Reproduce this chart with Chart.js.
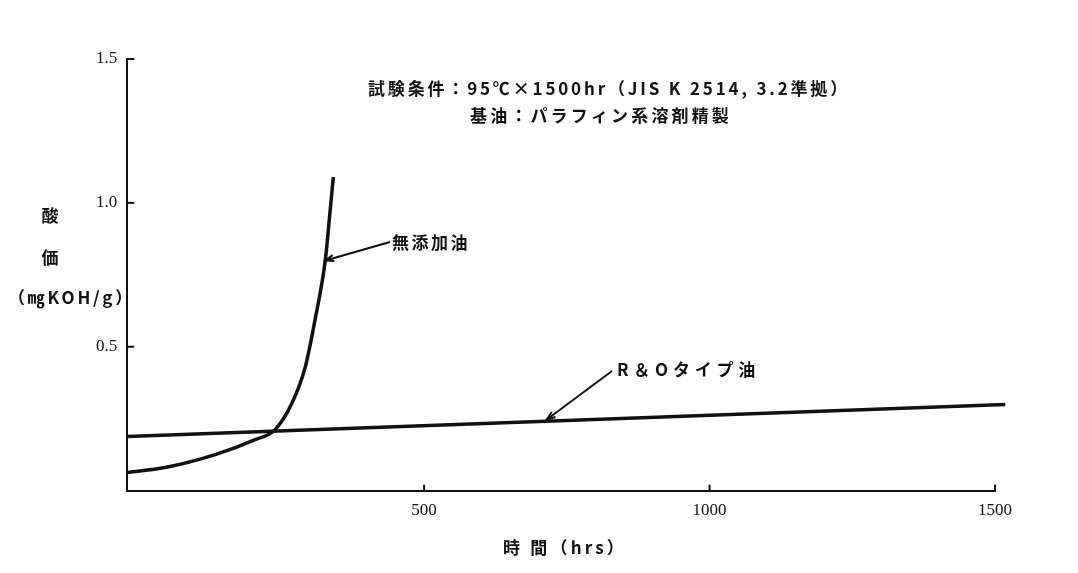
<!DOCTYPE html>
<html>
<head>
<meta charset="utf-8">
<script src="https://cdn.jsdelivr.net/npm/chart.js@4"></script>
<style>
  html, body { margin: 0; padding: 0; background: #fff; }
  #wrap { width: 1078px; height: 573px; }
</style>
</head>
<body>
<div id="wrap"><canvas id="acidChart"></canvas></div>
<script>
// 無添加油
const noAddHours = [-20, 46, 134, 204, 239, 269, 292, 309, 327, 335, 341];
const noAddAcid  = [0.063, 0.080, 0.125, 0.177, 0.212, 0.306, 0.431, 0.594, 0.802, 0.965, 1.09];
// R&Oタイプ油
const roHours = [-20, 1518];
const roAcid  = [0.188, 0.299];
// axis ticks
const xTicks = [500, 1000, 1500];
const yTicks = [0.5, 1.0, 1.5];

const jp = '"Noto Sans CJK JP", "Noto Sans", sans-serif';
const num = '"Liberation Serif", "DejaVu Serif", serif';

function arrow(ctx, x1, y1, x2, y2) {
    ctx.beginPath();
    ctx.moveTo(x1, y1);
    ctx.lineTo(x2, y2);
    ctx.stroke();
    const a = Math.atan2(y2 - y1, x2 - x1);
    ctx.beginPath();
    ctx.moveTo(x2 - 9 * Math.cos(a - 0.35), y2 - 9 * Math.sin(a - 0.35));
    ctx.lineTo(x2, y2);
    ctx.lineTo(x2 - 9 * Math.cos(a + 0.35), y2 - 9 * Math.sin(a + 0.35));
    ctx.stroke();
}

// text stretched to the width it has in the scan
function spread(ctx, text, x, y, width) {
    ctx.letterSpacing = '0px';
    const w = ctx.measureText(text).width;
    const n = [...text].length;
    ctx.letterSpacing = Math.max(0, (width - w) / n) + 'px';
    ctx.fillText(text, x, y);
    ctx.letterSpacing = '0px';
}

// inward ticks, texts and arrows
const extras = {
    id: 'extras',
    afterDraw(chart) {
        const ctx = chart.ctx;
        const xs = chart.scales.x, ys = chart.scales.y;
        const left = chart.chartArea.left, bottom = chart.chartArea.bottom;
        ctx.save();
        ctx.strokeStyle = '#111';
        ctx.lineWidth = 2;
        yTicks.forEach(v => {
            const py = ys.getPixelForValue(v);
            ctx.beginPath();
            ctx.moveTo(left, py);
            ctx.lineTo(left + 7, py);
            ctx.stroke();
        });
        xTicks.forEach(v => {
            const px = xs.getPixelForValue(v);
            ctx.beginPath();
            ctx.moveTo(px, bottom);
            ctx.lineTo(px, bottom - 6);
            ctx.stroke();
        });

        ctx.fillStyle = '#111';
        ctx.textBaseline = 'middle';
        ctx.textAlign = 'left';
        ctx.font = '600 17px ' + jp;
        spread(ctx, '試験条件：95℃×1500hr（JIS K 2514, 3.2準拠）', 368, 89, 482);
        spread(ctx, '基油：パラフィン系溶剤精製', 470, 116, 262);
        spread(ctx, '無添加油', 392, 243, 78);
        spread(ctx, 'R＆Oタイプ油', 617, 370, 143);
        spread(ctx, '時 間（hrs）', 503, 548, 124);

        ctx.textAlign = 'center';
        ctx.fillText('酸', 50, 216);
        ctx.fillText('価', 50, 258);
        ctx.textAlign = 'left';
        spread(ctx, '（㎎KOH/g）', 8, 298, 127);

        ctx.lineWidth = 2;
        arrow(ctx, 390, 242, xs.getPixelForValue(327), ys.getPixelForValue(0.80));
        arrow(ctx, 612, 371, xs.getPixelForValue(715), ys.getPixelForValue(0.247));
        ctx.restore();
    }
};

const ctx = document.getElementById('acidChart').getContext('2d');
const myChart = new Chart(ctx, {
    type: 'line',
    data: {
        datasets: [
            {
                label: '無添加油',
                data: noAddHours.map((h, i) => ({ x: h, y: noAddAcid[i] })),
                borderColor: '#111',
                borderWidth: 3.5,
                pointRadius: 0,
                cubicInterpolationMode: 'monotone',
                clip: false
            },
            {
                label: 'R&Oタイプ油',
                data: roHours.map((h, i) => ({ x: h, y: roAcid[i] })),
                borderColor: '#111',
                borderWidth: 3.5,
                pointRadius: 0,
                clip: false
            }
        ]
    },
    options: {
        responsive: true,
        maintainAspectRatio: false,
        animation: false,
        layout: { padding: { left: 94, right: 83, top: 59, bottom: 50 } },
        scales: {
            x: {
                type: 'linear',
                min: -20,
                max: 1500,
                afterBuildTicks: s => { s.ticks = xTicks.map(v => ({ value: v })); },
                grid: { display: false },
                border: { display: true, color: '#111', width: 2 },
                ticks: { color: '#111', font: { family: num, size: 17 }, padding: 2, maxRotation: 0, callback: v => String(v) }
            },
            y: {
                min: 0,
                max: 1.5,
                afterBuildTicks: s => { s.ticks = yTicks.map(v => ({ value: v })); },
                grid: { display: false },
                border: { display: true, color: '#111', width: 2 },
                ticks: { color: '#111', font: { family: num, size: 17 }, padding: 2, callback: v => v.toFixed(1) }
            }
        },
        plugins: {
            legend: { display: false },
            tooltip: { enabled: false }
        }
    },
    plugins: [extras]
});
</script>
</body>
</html>
